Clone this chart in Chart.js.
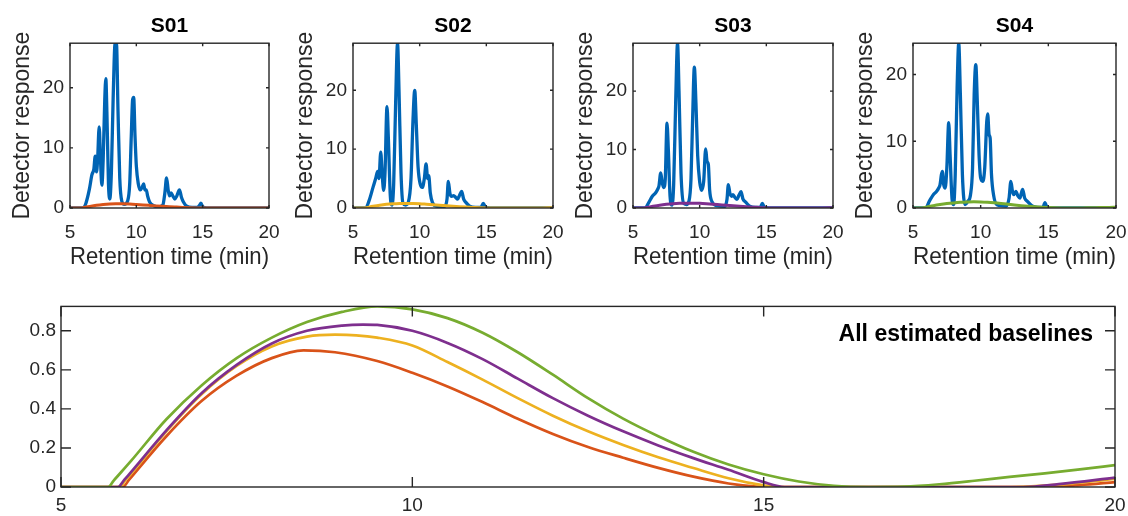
<!DOCTYPE html>
<html>
<head>
<meta charset="utf-8">
<script src="https://cdn.jsdelivr.net/npm/chart.js@4.4.0/dist/chart.umd.min.js"></script>
<style>
  body { margin: 0; background: #fff; }
  #wrap { position: relative; width: 1128px; height: 516px; overflow: hidden; background: #fff; }
  canvas { position: absolute; }
</style>
</head>
<body>
<div id="wrap">
  <canvas id="c1" width="293" height="280" style="left:0px;top:0px"></canvas>
  <canvas id="c2" width="294" height="280" style="left:283px;top:0px"></canvas>
  <canvas id="c3" width="294" height="280" style="left:563px;top:0px"></canvas>
  <canvas id="c4" width="297" height="280" style="left:843px;top:0px"></canvas>
  <canvas id="c5" width="1133" height="226" style="left:0px;top:290px"></canvas>
</div>
<script>
// tick labels
const ticksX = [5, 10, 15, 20];
const ticksTop = [0, 10, 20];
const ticksBottom = [0, 0.2, 0.4, 0.6, 0.8];
const sampleNames = ['S01', 'S02', 'S03', 'S04'];
const topMax = [27.4, 28, 28.2, 24.7];
const bottomMax = 0.925;

// chromatograms (retention time, detector response)
const s01Time = [5, 6.0, 6.2, 6.45, 6.65, 6.8, 6.9, 7.0, 7.08, 7.2, 7.3, 7.4, 7.5, 7.62, 7.7, 7.78, 7.9, 8.0, 8.12, 8.25, 8.4, 8.5, 8.62, 8.75, 8.9, 9.1, 9.35, 9.5, 9.62, 9.72, 9.8, 9.9, 10.0, 10.15, 10.3, 10.45, 10.55, 10.65, 10.75, 10.85, 11.0, 11.3, 11.7, 12.0, 12.15, 12.28, 12.4, 12.5, 12.62, 12.75, 12.9, 13.05, 13.25, 13.4, 13.55, 13.8, 14.2, 14.6, 14.78, 14.87, 15.0, 15.3, 20];
const s01Resp = [0, 0, 0.8, 3, 5.5, 6.5, 8.6, 6, 8, 13.5, 8, 3.8, 8, 18, 21.5, 16, 4, 1.5, 6, 18, 27.4, 27.4, 16, 5, 1.2, 0.6, 1.2, 4, 12, 18, 18.4, 12, 7, 4, 3, 3.5, 4, 3, 3, 2, 1, 0.4, 0.2, 0.5, 2.5, 5, 3, 2, 2.5, 2, 1.5, 2, 3, 1.8, 1, 0.3, 0.1, 0.1, 0.5, 0.8, 0.2, 0, 0];

const s02Time = [5, 5.95, 6.2, 6.5, 6.7, 6.85, 6.95, 7.08, 7.18, 7.3, 7.4, 7.55, 7.65, 7.8, 7.92, 8.05, 8.2, 8.34, 8.45, 8.6, 8.75, 8.95, 9.15, 9.35, 9.5, 9.63, 9.75, 9.88, 10.05, 10.2, 10.35, 10.48, 10.6, 10.68, 10.8, 10.95, 11.3, 11.9, 12.05, 12.15, 12.27, 12.4, 12.55, 12.7, 12.85, 13.0, 13.15, 13.3, 13.45, 13.75, 14.2, 14.6, 14.77, 14.95, 15.3, 20];
const s02Resp = [0, 0, 1.2, 3.5, 5, 6.2, 5, 9.5, 6, 3, 6, 17.2, 12, 2, 0.5, 4, 18, 28, 20, 6, 0.8, 0.5, 1, 5, 15, 20, 14, 7, 4, 3.5, 5, 7.5, 5, 5.5, 2.5, 1, 0.3, 0.3, 1.5, 4.5, 2.5, 2, 2.1, 1.8, 1.5, 2.2, 2.8, 1.5, 1, 0.3, 0.1, 0.1, 0.8, 0.1, 0, 0];

const s03Time = [5, 5.9, 6.2, 6.45, 6.7, 6.85, 6.95, 7.08, 7.18, 7.3, 7.42, 7.55, 7.65, 7.78, 7.92, 8.05, 8.2, 8.34, 8.45, 8.6, 8.8, 9.0, 9.2, 9.35, 9.48, 9.6, 9.72, 9.85, 10.0, 10.15, 10.3, 10.45, 10.55, 10.65, 10.75, 10.9, 11.3, 11.9, 12.05, 12.15, 12.27, 12.4, 12.5, 12.65, 12.8, 12.95, 13.1, 13.25, 13.45, 13.75, 14.2, 14.55, 14.7, 14.85, 15.2, 20];
const s03Resp = [0, 0, 1, 2, 2.6, 3.2, 3.8, 6, 4.5, 3.5, 5, 14.5, 10, 2, 0.5, 4, 18, 28.2, 20, 6, 0.8, 0.6, 1.2, 5, 16, 24.1, 18, 9, 4.5, 3, 4.5, 10.1, 8, 7.5, 3, 1.2, 0.4, 0.3, 1.5, 4, 2.5, 2, 2.3, 1.8, 1.5, 2.2, 2.8, 1.5, 1, 0.3, 0.1, 0.1, 0.8, 0.1, 0, 0];

const s04Time = [5, 5.95, 6.2, 6.5, 6.75, 6.9, 7.0, 7.1, 7.17, 7.27, 7.38, 7.5, 7.64, 7.74, 7.88, 8.0, 8.12, 8.26, 8.38, 8.5, 8.65, 8.85, 9.05, 9.25, 9.4, 9.52, 9.64, 9.75, 9.88, 10.0, 10.15, 10.3, 10.45, 10.52, 10.62, 10.7, 10.8, 10.95, 11.2, 11.9, 12.1, 12.23, 12.35, 12.45, 12.6, 12.75, 12.9, 13.0, 13.1, 13.25, 13.45, 13.8, 14.2, 14.6, 14.75, 14.9, 15.2, 20];
const s04Resp = [0, 0, 1, 2, 2.5, 3, 3.5, 5, 5.5, 3.5, 3, 6, 12.8, 8, 1.5, 0.5, 5, 18, 24.7, 17, 5, 0.5, 1, 2, 6, 17, 21.5, 16, 8, 4.5, 4, 6, 13, 14.1, 11, 10.5, 5, 2, 0.5, 0.3, 1.5, 4, 2.5, 2, 2.5, 1.8, 1.5, 2.2, 2.8, 1.5, 1, 0.3, 0.1, 0.1, 0.8, 0.1, 0, 0];

// estimated baselines
const base01Time = [5, 5.88, 5.97, 6.5, 7.0, 7.5, 8.0, 8.45, 8.9, 9.5, 10.0, 10.5, 11.0, 11.5, 12.0, 12.5, 13.0, 13.5, 14.0, 14.5, 14.9, 15.1, 18.9, 19.5, 20];
const base01 = [0, 0, 0.038, 0.26, 0.44, 0.57, 0.66, 0.7, 0.69, 0.645, 0.585, 0.515, 0.435, 0.35, 0.272, 0.205, 0.15, 0.098, 0.053, 0.018, 0.002, 0, 0, 0.01, 0.025];

const base02Time = [5, 5.83, 5.92, 6.5, 7.0, 7.5, 8.0, 8.5, 8.9, 9.2, 9.5, 10.0, 10.5, 11.0, 11.5, 12.0, 12.5, 13.0, 13.5, 14.0, 14.5, 15.0, 15.2, 18.5, 19.2, 20];
const base02 = [0, 0, 0.036, 0.285, 0.475, 0.62, 0.72, 0.77, 0.78, 0.777, 0.765, 0.725, 0.64, 0.55, 0.455, 0.365, 0.285, 0.215, 0.152, 0.097, 0.045, 0.008, 0, 0, 0.012, 0.042];

const base03Time = [5, 5.81, 5.9, 6.5, 7.0, 7.5, 8.0, 8.5, 9.0, 9.3, 9.5, 10.0, 10.5, 11.0, 11.5, 12.0, 12.5, 13.0, 13.5, 14.0, 14.5, 15.0, 15.3, 18.7, 19.2, 20];
const base03 = [0, 0, 0.036, 0.29, 0.48, 0.625, 0.735, 0.8, 0.827, 0.832, 0.83, 0.8, 0.738, 0.655, 0.555, 0.455, 0.365, 0.285, 0.213, 0.148, 0.088, 0.025, 0, 0, 0.015, 0.048];

const base04Time = [5, 5.67, 5.75, 6.0, 6.5, 7.0, 7.5, 8.0, 8.5, 9.0, 9.5, 10.0, 10.5, 11.0, 11.5, 12.0, 12.5, 13.0, 13.5, 14.0, 14.5, 15.0, 15.5, 16.0, 16.5, 17.0, 17.5, 18.0, 18.5, 19.0, 19.5, 20];
const base04 = [0, 0, 0.033, 0.135, 0.347, 0.52, 0.66, 0.765, 0.845, 0.897, 0.925, 0.91, 0.865, 0.79, 0.69, 0.575, 0.455, 0.35, 0.26, 0.18, 0.115, 0.065, 0.028, 0.006, 0, 0.002, 0.014, 0.032, 0.052, 0.07, 0.09, 0.112];

const times = [s01Time, s02Time, s03Time, s04Time];
const resps = [s01Resp, s02Resp, s03Resp, s04Resp];
const baseTimes = [base01Time, base02Time, base03Time, base04Time];
const bases = [base01, base02, base03, base04];

const blue = '#0064b4';
const lineColors = ['#D95319', '#EDB120', '#7E2F8E', '#77AC30'];

Chart.defaults.font.family = '"Liberation Sans", Arial, sans-serif';
Chart.defaults.color = '#262626';

function pts(xs, ys) {
  return xs.map((x, i) => ({ x: x, y: ys[i] }));
}

// MATLAB style box with inward ticks, plus optional text inside the axes
const boxPlugin = {
  id: 'box',
  afterDatasetsDraw(chart, args, opts) {
    const { ctx, chartArea: a, scales: { x, y } } = chart;
    const len = opts.len || 3;
    ctx.save();
    ctx.strokeStyle = '#262626';
    ctx.lineWidth = 1.4;
    ctx.strokeRect(a.left, a.top, a.right - a.left, a.bottom - a.top);
    ctx.beginPath();
    x.ticks.forEach(t => {
      const px = x.getPixelForValue(t.value);
      ctx.moveTo(px, a.bottom); ctx.lineTo(px, a.bottom - len);
      ctx.moveTo(px, a.top); ctx.lineTo(px, a.top + len);
    });
    y.ticks.forEach(t => {
      const py = y.getPixelForValue(t.value);
      ctx.moveTo(a.left, py); ctx.lineTo(a.left + len, py);
      ctx.moveTo(a.right, py); ctx.lineTo(a.right - len, py);
    });
    ctx.stroke();
    if (opts.label) {
      ctx.fillStyle = '#000';
      ctx.font = 'bold 23px "Liberation Sans", Arial, sans-serif';
      ctx.textAlign = 'right';
      ctx.textBaseline = 'middle';
      ctx.fillText(opts.label, a.right - 22, a.top + 28);
    }
    ctx.restore();
  }
};

function smallChart(i) {
  const canvas = document.getElementById('c' + (i + 1));
  return new Chart(canvas, {
    type: 'line',
    data: {
      datasets: [
        { data: pts(times[i], resps[i]), borderColor: blue, borderWidth: 3.3, order: 1 },
        { data: pts(baseTimes[i], bases[i]), borderColor: lineColors[i], borderWidth: 3, order: 0 }
      ]
    },
    options: {
      responsive: false,
      animation: false,
      layout: { padding: { right: 24 } },
      elements: { point: { radius: 0 }, line: { cubicInterpolationMode: 'monotone' } },
      plugins: {
        legend: { display: false },
        tooltip: { enabled: false },
        title: {
          display: true, text: sampleNames[i], fullSize: false, color: '#000',
          font: { size: 21, weight: 'bold' }, padding: { top: 14, bottom: 4 }
        },
        box: { len: 3 }
      },
      scales: {
        x: {
          type: 'linear', min: 5, max: 20,
          grid: { display: false, drawTicks: false }, border: { display: false },
          afterBuildTicks: s => { s.ticks = ticksX.map(v => ({ value: v })); },
          afterFit: s => { s.height = 72; },
          ticks: { font: { size: 19 }, padding: 13, maxRotation: 0, autoSkip: false },
          title: { display: true, text: 'Retention time (min)', font: { size: 24 }, padding: { top: 0, bottom: 8 } }
        },
        y: {
          type: 'linear', min: 0, max: topMax[i],
          grid: { display: false, drawTicks: false }, border: { display: false },
          afterBuildTicks: s => { s.ticks = ticksTop.map(v => ({ value: v })); },
          afterFit: s => { s.width = 70; },
          ticks: { font: { size: 19 }, padding: 6 },
          title: { display: true, text: 'Detector response', font: { size: 23 }, padding: { top: 9, bottom: 0 } }
        }
      }
    },
    plugins: [boxPlugin]
  });
}

for (let i = 0; i < 4; i++) {
  smallChart(i);
}

// all baselines together, green plotted last so it lies on top
const bottomSets = [];
for (let i = 0; i < 4; i++) {
  bottomSets.push({
    data: pts(baseTimes[i], bases[i]),
    borderColor: lineColors[i],
    borderWidth: 2.7,
    order: 3 - i
  });
}

new Chart(document.getElementById('c5'), {
  type: 'line',
  data: { datasets: bottomSets },
  options: {
    responsive: false,
    animation: false,
    layout: { padding: { top: 12, right: 18 } },
    elements: { point: { radius: 0 }, line: { cubicInterpolationMode: 'monotone' } },
    plugins: {
      legend: { display: false },
      tooltip: { enabled: false },
      box: { len: 10, label: 'All estimated baselines' }
    },
    scales: {
      x: {
        type: 'linear', min: 5, max: 20,
        grid: { display: false, drawTicks: false }, border: { display: false },
        afterBuildTicks: s => { s.ticks = ticksX.map(v => ({ value: v })); },
        afterFit: s => { s.height = 29; },
        ticks: { font: { size: 19 }, padding: 7, maxRotation: 0, autoSkip: false }
      },
      y: {
        type: 'linear', min: 0, max: bottomMax,
        grid: { display: false, drawTicks: false }, border: { display: false },
        afterBuildTicks: s => { s.ticks = ticksBottom.map(v => ({ value: v })); },
        afterFit: s => { s.width = 61; },
        ticks: { font: { size: 19 }, padding: 5 }
      }
    }
  },
  plugins: [boxPlugin]
});
</script>
</body>
</html>
